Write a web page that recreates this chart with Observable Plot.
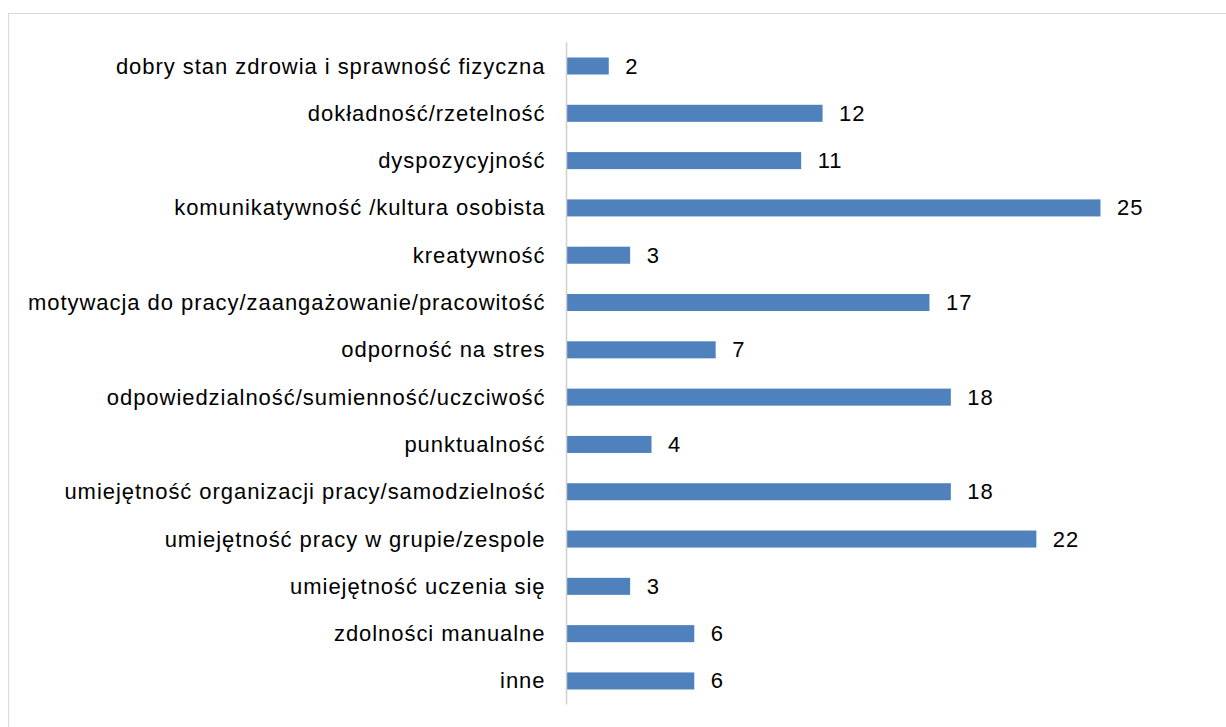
<!DOCTYPE html>
<html>
<head>
<meta charset="utf-8">
<script src="https://cdn.jsdelivr.net/npm/d3@7"></script>
<script src="https://cdn.jsdelivr.net/npm/@observablehq/plot@0.6"></script>
<style>
  html, body { margin: 0; padding: 0; background: #fff; overflow: hidden; }
  #wrap { position: relative; width: 1226px; height: 727px; }
  #frame { position: absolute; left: 8px; top: 13px; width: 1240px; height: 740px; border: 1.5px solid #d9d9d9; box-sizing: border-box; }
  #chart { position: absolute; left: 0; top: 0; }
  #chart svg text { letter-spacing: 0.95px; }
</style>
</head>
<body>
<div id="wrap"><div id="frame"></div><div id="chart"></div></div>
<script>
const categories = [
  "dobry stan zdrowia i sprawność fizyczna",
  "dokładność/rzetelność",
  "dyspozycyjność",
  "komunikatywność /kultura osobista",
  "kreatywność",
  "motywacja do pracy/zaangażowanie/pracowitość",
  "odporność na stres",
  "odpowiedzialność/sumienność/uczciwość",
  "punktualność",
  "umiejętność organizacji pracy/samodzielność",
  "umiejętność pracy w grupie/zespole",
  "umiejętność uczenia się",
  "zdolności manualne",
  "inne"
];
const values = [2, 12, 11, 25, 3, 17, 7, 18, 4, 18, 22, 3, 6, 6];

const data = categories.map((c, i) => ({category: c, value: values[i]}));

const chart = Plot.plot({
  width: 1226,
  height: 727,
  marginLeft: 566,
  marginRight: 18.6,
  marginTop: 42.35,
  marginBottom: 22.4,
  style: {fontFamily: "Arial, 'Liberation Sans', sans-serif", background: "transparent", color: "#000"},
  x: {domain: [0, 30], axis: null},
  y: {domain: categories, paddingInner: 0.64, paddingOuter: 0.32, round: false, label: null},
  marks: [
    Plot.axisY({tickSize: 0, tickPadding: 21, fontSize: 22, label: null, fill: "#000"}),
    Plot.barX(data, {x: "value", y: "category", fill: "#4F81BD"}),
    Plot.ruleX([0], {stroke: "#d0d0d0", strokeWidth: 1.5}),
    Plot.text(data, {x: "value", y: "category", text: d => String(d.value), dx: 16, textAnchor: "start", fontSize: 22, fill: "#000"})
  ]
});
document.getElementById("chart").appendChild(chart);
</script>
</body>
</html>
